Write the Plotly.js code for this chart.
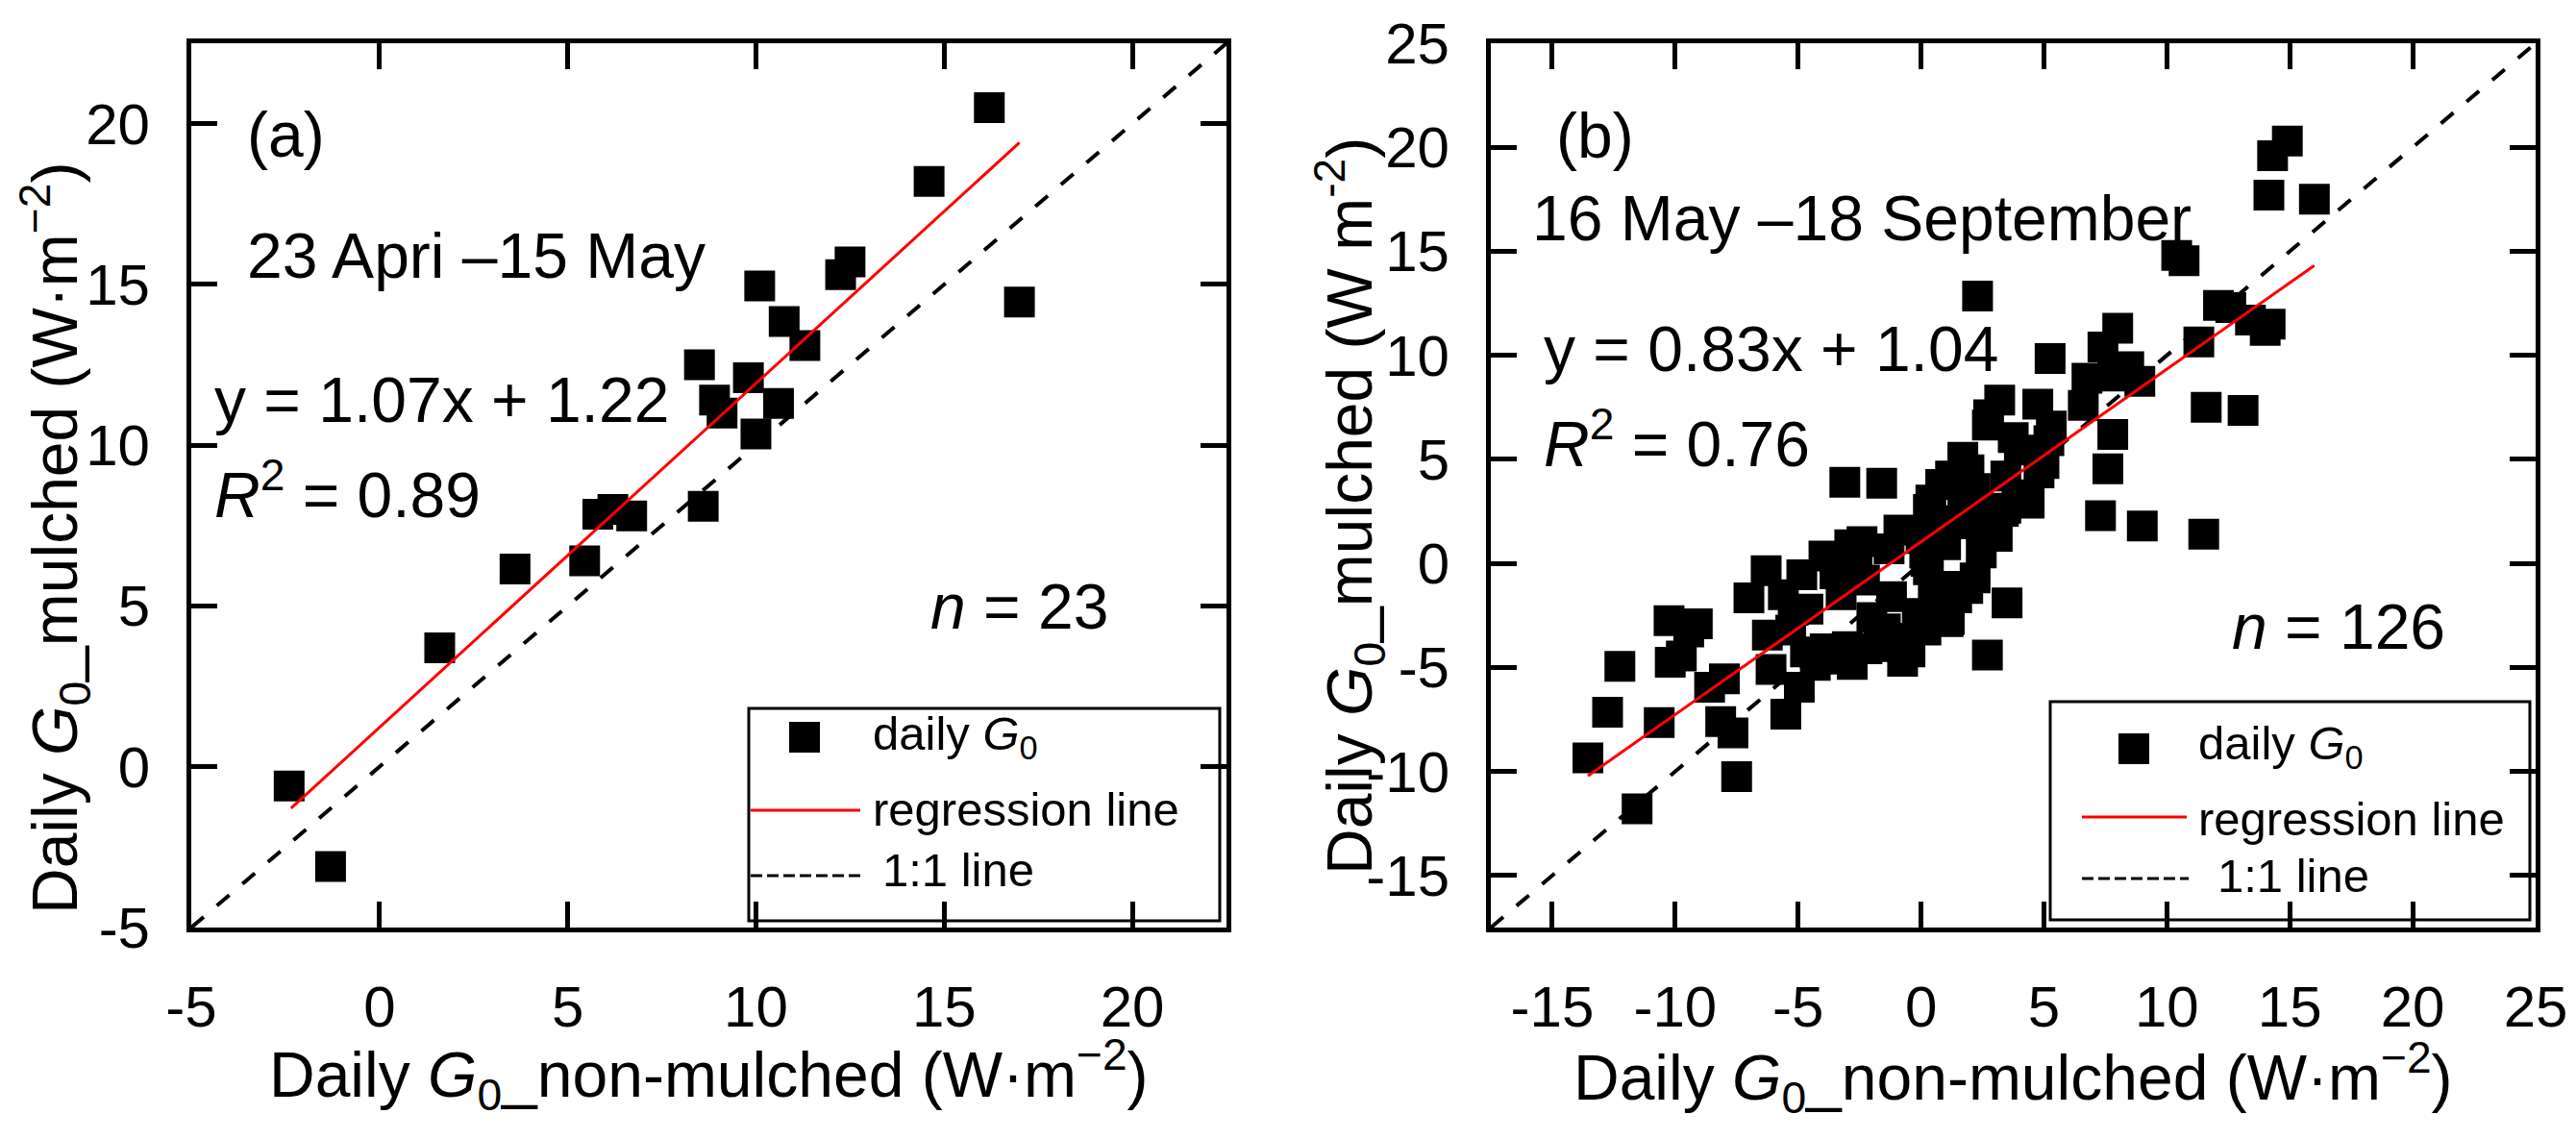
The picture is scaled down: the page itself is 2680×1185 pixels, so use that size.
<!DOCTYPE html>
<html>
<head>
<meta charset="utf-8">
<script src="https://cdn.plot.ly/plotly-3.0.1.min.js"></script>
<style>
  html, body { margin: 0; padding: 0; background: #fff; }
  #chart { width: 2680px; height: 1185px; }
</style>
</head>
<body>
<div id="chart"></div>
<script>
// panel (a): 23 April - 15 May
const aX = [-2.4, -1.3, 1.6, 3.6, 5.45, 5.8, 6.2, 6.7, 8.6, 8.5, 8.9, 9.1, 9.8, 10.0, 10.1, 10.75, 10.6, 11.3, 12.25, 12.5, 14.6, 16.2, 17.0];
const aY = [-0.6, -3.1, 3.7, 6.15, 6.4, 7.85, 8.0, 7.8, 8.1, 12.5, 11.4, 11.0, 12.1, 10.35, 14.95, 13.85, 11.3, 13.1, 15.3, 15.7, 18.2, 20.5, 14.45];
const aFitX = [-2.35, 17.0];
const aFitY = [-1.29, 19.41];
const aOneX = [-5, 22.5];
const aOneY = [-5, 22.5];
const aTicks = [-5, 0, 5, 10, 15, 20];
const aTickText = ['-5', '0', '5', '10', '15', '20'];

// panel (b): 16 May - 18 September
const bX = [-13.55, -12.75, -12.25, -11.55, -10.65, -10.25, -9.1, -10.2, -9.75, -9.45,
  -8.0, -8.6, -8.15, -7.65, -7.5, -6.1, -5.5, -4.95, -7.0, -6.3,
  -6.25, -4.85, -3.95, -5.2, -4.7, -2.8, -0.75, -0.45, -2.4, -0.9,
  0.4, 0.8, 1.7, 2.75, 3.2, 3.75, 3.45, 3.45, 3.5, 2.7,
  1.15, -0.15, -1.45, -3.0, -3.9, -2.2, -3.25, -2.3, 1.9, 0.15,
  0.65, 1.95, 2.45, 2.95, 1.7, 1.95, -3.1, -1.6, 2.3, 5.25,
  8.0, 7.4, 6.75, 6.6, 8.45, 8.9, 7.8, 7.8, 7.6, 7.3,
  9.0, 11.5, 11.6, 11.3, 12.1, 4.75, 2.7, 5.2, 4.8, 4.0,
  4.4, 3.35, 0.3, 2.2, 3.1, 1.45, 0.2, 2.2, 1.45, 0.65,
  1.1, 13.1, 12.6, 13.4, 14.0, 14.2, 10.4, 10.7, 14.15, 14.3,
  14.9, 16.0, 5.3, 5.0, -3.5, -2.6, -1.2, 0.5, 0.3, -4.6,
  -2.0, -0.8, 0.2, -4.3, -3.7, -5.3, -2.9, -1.3, 0.0, 1.0,
  1.3, 2.6, 1.2, 3.9, -1.7, -5.6];
const bY = [-9.35, -7.15, -4.95, -11.8, -7.65, -2.75, -2.9, -4.75, -4.45, -3.3,
  -5.55, -5.95, -7.6, -8.15, -10.25, -5.1, -7.25, -5.95, -1.65, -0.35,
  -3.45, -0.55, 0.35, -2.25, -4.25, -4.85, -4.7, -4.25, 1.05, 1.6,
  3.05, 3.8, 5.1, 7.15, 7.85, 6.05, 4.2, 2.65, -1.9, -4.4,
  -2.7, -2.4, -3.15, -4.0, -4.1, -4.1, -1.5, -0.8, -1.2, 0.5,
  1.75, 1.9, 0.5, 1.45, 3.45, 4.5, 3.9, 3.85, 12.85, 9.85,
  11.3, 10.4, 8.9, 7.6, 9.45, 8.75, 9.0, 6.2, 4.55, 2.3,
  1.8, 1.4, 7.5, 10.65, 12.4, 7.65, 6.65, 5.9, 4.35, 5.45,
  2.9, 2.5, 2.6, 3.6, 1.3, 2.05, 0.1, -0.7, -1.65, -1.95,
  -2.8, 7.35, 12.3, 11.7, 11.2, 11.5, 14.8, 14.55, 17.7, 19.6,
  20.3, 17.5, 6.6, 4.8, -0.5, -0.2, -1.6, -1.3, -0.3, -2.2,
  -2.6, -3.6, -3.2, -4.9, -4.6, -3.2, 0.9, 0.7, 1.2, 0.9,
  -1.1, 2.2, 4.2, 3.3, -4.0, -1.5];
const bFitX = [-13.55, 16.0];
const bFitY = [-10.21, 14.32];
const bOneX = [-17.5, 25];
const bOneY = [-17.5, 25];
const bTicks = [-15, -10, -5, 0, 5, 10, 15, 20, 25];
const bTickText = ['-15', '-10', '-5', '0', '5', '10', '15', '20', '25'];

const W = 2680, H = 1185;
const M = { l: 199, r: 42, t: 45, b: 220, pad: 0 };
const PW = W - M.l - M.r, PH = H - M.t - M.b;
const fx = px => (px - M.l) / PW;
const fy = py => 1 - (py - M.t) / PH;
const FONT = 'Liberation Sans, Arial, sans-serif';

function oneLine(x, y, xa, ya) {
  return { x, y, xaxis: xa, yaxis: ya, mode: 'lines', hoverinfo: 'skip', showlegend: false, cliponaxis: true,
    line: { color: '#000', width: 4, dash: '17px,18px' } };
}
function points(x, y, xa, ya) {
  return { x, y, xaxis: xa, yaxis: ya, mode: 'markers', hoverinfo: 'skip', showlegend: false,
    marker: { symbol: 'square', size: 32, color: '#000', line: { width: 0 } } };
}
function fitLine(x, y, xa, ya) {
  return { x, y, xaxis: xa, yaxis: ya, mode: 'lines', hoverinfo: 'skip', showlegend: false,
    line: { color: '#ff0000', width: 3 } };
}

const traces = [
  oneLine(aOneX, aOneY, 'x', 'y'), points(aX, aY, 'x', 'y'), fitLine(aFitX, aFitY, 'x', 'y'),
  oneLine(bOneX, bOneY, 'x2', 'y2'), points(bX, bY, 'x2', 'y2'), fitLine(bFitX, bFitY, 'x2', 'y2'),
];

function axis(range, ticks, labels, domain, anchor) {
  return {
    range, domain, anchor, tickmode: 'array', tickvals: ticks, ticktext: labels,
    ticks: 'inside', ticklen: 27, tickwidth: 5, tickcolor: '#000',
    showline: true, linewidth: 5, linecolor: '#000', mirror: 'ticks',
    showgrid: false, zeroline: false, fixedrange: true,
    ticklabelstandoff: 26,
    tickfont: { family: FONT, size: 60, color: '#000' },
  };
}

// text placed by pixel position
function note(text, px, py, size, opts) {
  return { text, x: fx(px), y: fy(py), xref: 'paper', yref: 'paper', showarrow: false,
    xanchor: 'left', yanchor: 'middle', font: { family: FONT, size, color: '#000' }, ...opts };
}

const yTitleA = 'Daily <i>G</i><sub>0</sub>_mulched (W·m<sup>−2</sup>)';
const yTitleB = 'Daily <i>G</i><sub>0</sub>_mulched (W m<sup>-2</sup>)';
const xTitle = 'Daily <i>G</i><sub>0</sub>_non-mulched (W·m<sup>−2</sup>)';

const annotations = [
  note('(a)', 255, 140, 66),
  note('23 Apri –15 May', 255, 266, 66),
  note('y = 1.07x + 1.22', 221, 416, 66),
  note('<i>R</i><sup>2</sup> = 0.89', 221, 510, 66),
  note('<i>n</i> = 23', 966, 631, 66),
  note('(b)', 1617, 141, 66),
  note('16 May –18 September', 1592, 227, 66),
  note('y = 0.83x + 1.04', 1604, 363, 66),
  note('<i>R</i><sup>2</sup> = 0.76', 1604, 457, 66),
  note('<i>n</i> = 126', 2320, 652, 66),
  note(xTitle, 737, 1118, 66, { xanchor: 'center' }),
  note(xTitle, 2094, 1121, 66, { xanchor: 'center' }),
  note(yTitleA, 57, 560, 66, { xanchor: 'center', textangle: -90 }),
  note(yTitleB, 1404, 527, 66, { xanchor: 'center', textangle: -90 }),
];

// hand-drawn legend boxes
const shapes = [];
function legend(box, mk, redX, dashX, redY, dashY, textX, oneX, rows) {
  shapes.push({ type: 'rect', xref: 'paper', yref: 'paper', x0: fx(box[0]), x1: fx(box[1]), y0: fy(box[2]), y1: fy(box[3]),
    line: { color: '#000', width: 3 }, fillcolor: 'rgba(0,0,0,0)' });
  shapes.push({ type: 'rect', xref: 'paper', yref: 'paper', x0: fx(mk[0] - 16), x1: fx(mk[0] + 16), y0: fy(mk[1] - 16), y1: fy(mk[1] + 16),
    line: { width: 0 }, fillcolor: '#000' });
  shapes.push({ type: 'line', xref: 'paper', yref: 'paper', x0: fx(redX[0]), x1: fx(redX[1]), y0: fy(redY), y1: fy(redY),
    line: { color: '#ff0000', width: 3 } });
  shapes.push({ type: 'line', xref: 'paper', yref: 'paper', x0: fx(dashX[0]), x1: fx(dashX[1]), y0: fy(dashY), y1: fy(dashY),
    line: { color: '#000', width: 3, dash: '12px,5px' } });
  annotations.push(note('daily <i>G</i><sub>0</sub>', textX, rows[0], 49));
  annotations.push(note('regression line', textX, rows[1], 49));
  annotations.push(note('1:1 line', oneX, rows[2], 49));
}
legend([779, 1269, 737, 958], [837, 767], [781, 895], [781, 898], 843, 911, 906, 916, [766, 842, 905]);
legend([2133, 2632, 730, 957], [2220, 779], [2166, 2275], [2166, 2277], 850, 914, 2285, 2305, [776, 852, 911]);

const layout = {
  width: W, height: H, margin: M, showlegend: false,
  paper_bgcolor: '#fff', plot_bgcolor: '#fff',
  font: { family: FONT, color: '#000' },
  xaxis: axis([-5, 22.5], aTicks, aTickText, [0, fx(1276)], 'y'),
  yaxis: axis([-5, 22.5], aTicks, aTickText, [0, 1], 'x'),
  xaxis2: axis([-17.5, 25], bTicks, bTickText, [fx(1551), 1], 'y2'),
  yaxis2: axis([-17.5, 25], bTicks, bTickText, [0, 1], 'x2'),
  annotations, shapes,
};

Plotly.newPlot('chart', traces, layout, { staticPlot: true, displayModeBar: false });
</script>
</body>
</html>
